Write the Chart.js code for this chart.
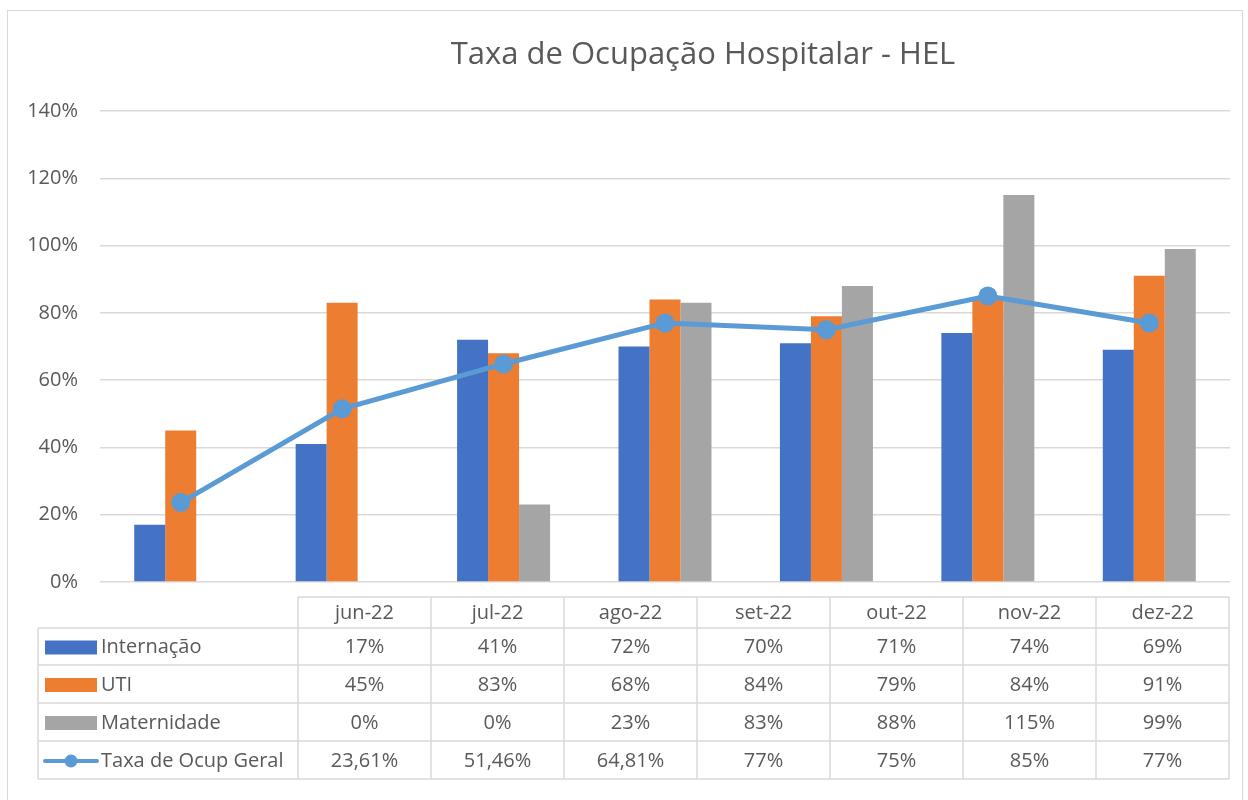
<!DOCTYPE html>
<html>
<head>
<meta charset="utf-8">
<script src="https://cdn.jsdelivr.net/npm/chart.js@4.4.0/dist/chart.umd.min.js"></script>
<style>
  body { margin: 0; background: #fff; }
  #frame { position: absolute; left: 7px; top: 10px; width: 1234px; height: 820px; border: 1px solid #d9d9d9; }
  #wrap { position: absolute; left: 0; top: 0; width: 1248px; height: 800px; }
</style>
</head>
<body>
<div id="frame"></div>
<div id="wrap"><canvas id="ocupChart" width="1248" height="800"></canvas></div>
<script>
// Data
const months = ["jun-22", "jul-22", "ago-22", "set-22", "out-22", "nov-22", "dez-22"];
const internacao = [17, 41, 72, 70, 71, 74, 69];
const uti = [45, 83, 68, 84, 79, 84, 91];
const maternidade = [0, 0, 23, 83, 88, 115, 99];
const taxaGeral = [23.61, 51.46, 64.81, 77, 75, 85, 77];
const yTicks = [0, 20, 40, 60, 80, 100, 120, 140];
const chartTitle = "Taxa de Ocupação Hospitalar - HEL";

const textColor = "#595959";
const gridColor = "#d9d9d9";
const fontFamily = "'Open Sans', 'Noto Sans', sans-serif";

// format numbers like the Excel table (comma decimal)
function fmt(v) {
  if (Number.isInteger(v)) return v + "%";
  return v.toFixed(2).replace(".", ",") + "%";
}

// Title is off-center in the original, so draw it here
const titlePlugin = {
  id: "offTitle",
  afterDraw(chart) {
    const ctx = chart.ctx;
    ctx.save();
    ctx.fillStyle = textColor;
    ctx.font = "31px " + fontFamily;
    ctx.textAlign = "center";
    ctx.textBaseline = "middle";
    ctx.fillText(chartTitle, 703, 55);
    ctx.restore();
  },
};

// Draws the data table under the chart
const dataTable = {
  id: "dataTable",
  afterDraw(chart) {
    const ctx = chart.ctx;
    const left = 38;
    const colStart = 298;
    const colW = 133;
    const rowY = [597, 628, 665, 703, 741, 779];
    const right = colStart + colW * months.length;
    const rows = [
      { name: "Internação", data: internacao, color: "#4472C4", type: "bar" },
      { name: "UTI", data: uti, color: "#ED7D31", type: "bar" },
      { name: "Maternidade", data: maternidade, color: "#A5A5A5", type: "bar" },
      { name: "Taxa de Ocup Geral", data: taxaGeral, color: "#5B9BD5", type: "line" },
    ];
    ctx.save();
    ctx.strokeStyle = gridColor;
    ctx.lineWidth = 1.5;
    // horizontal lines
    ctx.beginPath();
    ctx.moveTo(colStart, rowY[0]); ctx.lineTo(right, rowY[0]);
    for (let i = 1; i < rowY.length; i++) {
      ctx.moveTo(left, rowY[i]); ctx.lineTo(right, rowY[i]);
    }
    // vertical lines
    ctx.moveTo(left, rowY[1]); ctx.lineTo(left, rowY[5]);
    for (let c = 0; c <= months.length; c++) {
      const x = colStart + c * colW;
      ctx.moveTo(x, rowY[0]); ctx.lineTo(x, rowY[5]);
    }
    ctx.stroke();

    ctx.fillStyle = textColor;
    ctx.font = "20px " + fontFamily;
    ctx.textAlign = "center";
    ctx.textBaseline = "middle";
    months.forEach((m, c) => {
      ctx.fillText(m, colStart + c * colW + colW / 2, (rowY[0] + rowY[1]) / 2 + 1);
    });
    rows.forEach((r, i) => {
      const cy = (rowY[i + 1] + rowY[i + 2]) / 2 + 1;
      // legend key
      if (r.type === "bar") {
        ctx.fillStyle = r.color;
        ctx.fillRect(45, cy - 7, 52, 14);
      } else {
        ctx.strokeStyle = r.color;
        ctx.lineWidth = 4;
        ctx.lineCap = "round";
        ctx.beginPath(); ctx.moveTo(45, cy); ctx.lineTo(97, cy); ctx.stroke();
        ctx.fillStyle = r.color;
        ctx.beginPath(); ctx.arc(71, cy, 6.5, 0, Math.PI * 2); ctx.fill();
      }
      ctx.fillStyle = textColor;
      ctx.textAlign = "left";
      ctx.fillText(r.name, 101, cy);
      ctx.textAlign = "center";
      r.data.forEach((v, c) => {
        ctx.fillText(fmt(v), colStart + c * colW + colW / 2, cy);
      });
    });
    ctx.restore();
  },
};

new Chart("ocupChart", {
  data: {
    labels: months,
    datasets: [
      {
        type: "line",
        label: "Taxa de Ocup Geral",
        data: taxaGeral,
        borderColor: "#5B9BD5",
        backgroundColor: "#5B9BD5",
        borderWidth: 5,
        pointRadius: 7,
        pointHoverRadius: 7,
        tension: 0,
        order: 0,
      },
      { type: "bar", label: "Internação", data: internacao, backgroundColor: "#4472C4", order: 1 },
      { type: "bar", label: "UTI", data: uti, backgroundColor: "#ED7D31", order: 1 },
      { type: "bar", label: "Maternidade", data: maternidade, backgroundColor: "#A5A5A5", order: 1 },
    ],
  },
  options: {
    responsive: false,
    animation: false,
    categoryPercentage: 0.576,
    barPercentage: 1,
    layout: { padding: { left: 0, right: 18, top: 111, bottom: 210 } },
    plugins: {
      legend: { display: false },
      tooltip: { enabled: false },
      title: { display: false },
    },
    scales: {
      x: {
        ticks: { display: false },
        grid: { display: false },
        border: { display: false },
      },
      y: {
        min: 0,
        max: 140,
        afterBuildTicks(scale) {
          scale.ticks = yTicks.map((v) => ({ value: v }));
        },
        afterFit(scale) {
          scale.width = 100;
        },
        ticks: {
          color: textColor,
          font: { size: 20, family: fontFamily },
          padding: 22,
          callback: (v) => v + "%",
        },
        grid: { color: gridColor, lineWidth: 1.5, drawTicks: false },
        border: { display: false },
      },
    },
  },
  plugins: [dataTable, titlePlugin],
});
</script>
</body>
</html>
